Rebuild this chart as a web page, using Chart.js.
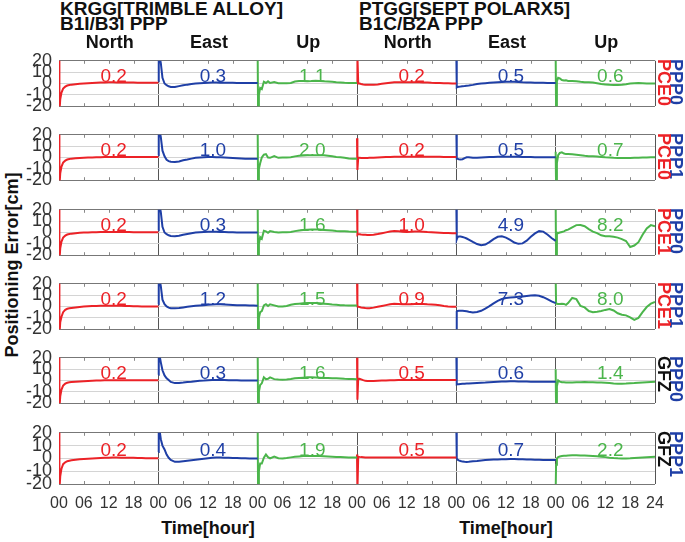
<!DOCTYPE html>
<html><head><meta charset="utf-8">
<script src="https://cdn.jsdelivr.net/npm/chart.js@4.4.1/dist/chart.umd.min.js"></script>
<style>
body{margin:0;background:#fff;width:685px;height:542px;overflow:hidden;position:relative;font-family:"Liberation Sans",Arial,sans-serif;}
.t{position:absolute;white-space:nowrap;line-height:1;color:#111;font-weight:bold;font-size:19px;}
.y{position:absolute;white-space:nowrap;line-height:1;color:#111;font-weight:bold;font-size:18px;}
.v{position:absolute;white-space:nowrap;line-height:1;font-size:19px;transform:translate(-50%,-50%);}
.c{position:absolute;white-space:nowrap;line-height:1;color:#111;font-weight:bold;font-size:18px;transform:translateX(-50%);}
.r{position:absolute;white-space:nowrap;line-height:1;font-weight:bold;font-size:18px;transform-origin:0 0;transform:rotate(90deg);}
canvas{position:absolute;left:0;}
</style></head><body>
<div class="t" style="left:60px;top:-1px">KRGG[TRIMBLE ALLOY]</div>
<div class="t" style="left:60px;top:14px">B1I/B3I PPP</div>
<div class="t" style="left:359px;top:-1px">PTGG[SEPT POLARX5]</div>
<div class="t" style="left:359px;top:14px">B1C/B2A PPP</div>
<div class="y" style="left:12px;top:265px;transform:translate(-50%,-50%) rotate(-90deg)">Positioning Error[cm]</div>
<script>
// ---- data ----
const T = [0,0.1,0.3,0.6,1,1.5,2,2.5,3,4,5,6,7,8,9,10,11,12,13,14,15,16,17,18,19,20,21,22,23,24];
const COMPONENTS = ['North','East','Up'];
const STATIONS = ['KRGG','PTGG'];
const ROW_LABEL1 = ['PPP0','PPP1','PPP0','PPP1','PPP0','PPP1'];
const ROW_LABEL2 = ['PCE0','PCE0','PCE1','PCE1','GFZ','GFZ'];
const X_TICK_LABELS = ['00','06','12','18'];

// row 1: PPP0 / PCE0
const krggN1 = [30,-25,-14,-8,-4.5,-2.8,-1.8,-1.3,-1,-0.6,-0.3,0,0.2,0.4,0.6,0.8,0.9,1,1,0.9,1,0.9,0.8,0.8,0.7,0.7,0.7,0.7,0.7,0.7];
const krggE1 = [2,25,24,18,5,0,-1.5,-2.5,-3,-3,-2.3,-1.6,-1,-0.5,0,0.3,0.5,0.7,0.8,0.8,0.7,0.7,0.6,0.6,0.5,0.5,0.5,0.5,0.5,0.5];
const krggU1 = [25,-25,-10,-4,-5,1.5,0.5,2,0.5,1.2,0.3,0.2,0.2,0.5,1.8,2.2,2.3,2,2.2,2.5,2.3,2,1.8,1.5,1,0.8,0.6,0.5,0.5,0.5];
const ptggN1 = [0,25,0,0,-0.5,-0.8,-1,-1.1,-1.2,-1.2,-0.8,-0.3,0.2,0.6,1,1.2,1.2,1.2,1.1,1.1,1,0.9,0.8,0.6,0.5,0.4,0.3,0.2,0.1,0];
const ptggE1 = [25,-3.5,-3,-2.8,-2.7,-2.5,-2.3,-2,-1.8,-1.2,-0.5,0,0.3,0.6,0.9,1.1,1.3,1.5,1.6,1.5,1.3,1,0.9,0.8,0.7,0.6,0.6,0.5,0.5,0.5];
const ptggU1 = [25,-25,2,5,4.5,3,2.6,2.8,2.3,2.2,2,1.5,1.2,1,0.8,0.3,-0.4,-0.8,-1.2,-1.4,-1.3,-1.1,-0.6,0,0.3,0.4,0.2,0,0,0];
// row 2: PPP1 / PCE0
const krggN2 = [30,-25,-14,-8,-4.5,-2.8,-1.8,-1.3,-1,-0.7,-0.5,-0.3,-0.1,0,0.2,0.3,0.4,0.5,0.5,0.5,0.5,0.5,0.4,0.4,0.4,0.4,0.4,0.4,0.4,0.4];
const krggE2 = [2,25,24,18,6,1,-2,-3.2,-3.8,-4,-3.5,-2.5,-1.8,-1,-0.3,0.1,0.3,0.4,0.4,0.3,0.2,0,-0.2,-0.4,-0.6,-0.8,-1,-1.1,-1.2,-1.2];
const krggU2 = [25,-25,-10,-5,0,2.5,3,0,-0.3,1.2,-0.3,0,0,0.3,1,1.5,1.8,2,2,2,2,2,1.5,1,0.5,0.2,-0.3,-0.8,-1.1,-1.2];
const ptggN2 = [17,-11,0,-0.3,-0.5,-0.5,-0.4,-0.35,-0.3,-0.2,0,0.2,0.4,0.5,0.6,0.7,0.7,0.7,0.7,0.7,0.6,0.6,0.6,0.6,0.6,0.6,0.5,0.5,0.5,0.5];
const ptggE2 = [25,-1,-1.2,-1.5,-1.8,-1.5,-0.5,0.2,0.3,-0.2,-0.3,0,0.2,0.4,0.5,0.6,0.7,0.7,0.7,0.6,0.6,0.5,0.5,0.4,0.3,0.2,0.2,0.2,0.2,0.2];
const ptggU2 = [5,-25,-5,2,4,4.5,3.5,3,3,2.8,2.5,2,1.5,1.2,1,0.8,0.5,0.2,0,-0.3,-0.5,-0.5,-0.5,-0.4,-0.3,-0.2,0,0.1,0.2,0.2];
// row 3: PPP0 / PCE1
const krggN3 = [30,-25,-14,-8,-4.5,-2.8,-1.8,-1.3,-1,-0.6,-0.3,0,0.1,0.2,0.3,0.4,0.5,0.5,0.5,0.5,0.5,0.5,0.4,0.3,0.3,0.3,0.3,0.3,0.3,0.3];
const krggE3 = [2,25,24,18,5,0,-1.5,-2.5,-3,-3.3,-2.8,-2,-1.3,-0.6,0,0.3,0.5,0.6,0.7,0.6,0.5,0.4,0.3,0.2,0.1,0,0,0,0,0];
const krggU3 = [25,-25,-10,-4,-5.5,1.5,1,-0.2,1.2,0.5,0,0.2,0.2,0.4,1.2,1.8,2.2,2.5,2.6,2.6,2.6,2.3,2,1.7,1.4,1.2,1,0.8,0.7,0.7];
const ptggN3 = [25,-2,-1.5,-1.5,-1.7,-1.9,-2,-2.1,-2.1,-2,-1.4,-0.6,0.1,0.8,1.3,1.1,0.7,0.5,0.6,0.8,0.9,0.7,0.4,0.2,0,-0.2,-0.4,-0.5,-0.6,-0.7];
const ptggE3 = [25,-6,-4,-3.5,-3.6,-4,-4.5,-5.3,-6.2,-8.3,-10.2,-11.2,-10.6,-8.5,-5.8,-3.8,-3.4,-4.5,-6.5,-8.8,-10,-9.6,-7.2,-3.8,-0.8,1.2,0.8,-1.8,-4.8,-7.4];
const ptggU3 = [25,-25,0,-0.5,0,0.5,1,2,2.5,4.5,6.5,6.6,5.5,3,0.8,-0.5,-2.5,-3.2,-3.3,-3.8,-4.5,-5.8,-7.5,-12.8,-11.5,-8.5,-2,3.5,6.5,5.5];
// row 4: PPP1 / PCE1
const krggN4 = [30,-25,-14,-9,-5,-3,-2,-1.6,-1.3,-0.8,-0.4,0,0.2,0.4,0.5,0.6,0.7,0.7,0.7,0.6,0.6,0.5,0.4,0.3,0.2,0.1,0.1,0,0,0];
const krggE4 = [2,25,24,18,6,2,0,-1,-1.5,-1.6,-1.3,-0.8,-0.3,0.2,0.6,0.9,1.2,1.5,1.7,1.9,1.9,1.8,1.6,1.4,1.2,1.1,1,0.9,0.8,0.7];
const krggU4 = [25,-25,-10,-5,-4,1,2,0.5,2,1,0,0,0.5,1.5,2.2,2.5,2.8,3,3.1,3,2.8,2.5,2.2,1.8,1.5,1.2,1,0.9,0.8,0.8];
const ptggN4 = [25,0,-0.3,-0.5,-0.8,-1.1,-1.4,-1.6,-1.6,-1,-0.2,0.5,1.2,1.9,2.4,2.3,2,1.9,2,2.2,2.3,2.1,1.9,1.8,1.5,1,0.5,0.1,-0.2,-0.3];
const ptggE4 = [-25,-4.5,-4,-3.8,-3.8,-3.8,-3.9,-4.2,-4.6,-5.3,-4.8,-3.8,-1.8,0.3,2.8,5,6.6,7.5,7.9,8.2,8.5,8.9,9.3,9.7,10,9.5,8.2,6.5,4.5,3];
const ptggU4 = [25,2.5,2.4,2.2,2.3,2.4,2.3,1.5,3,7.5,6.5,0.5,-0.8,-4,-5,-4.6,-4,-3,-2.2,-3.5,-6,-7.3,-7.8,-9.5,-11.8,-10,-5,-0.5,2.5,4];
// row 5: PPP0 / GFZ
const krggN5 = [30,-25,-14,-8,-4.5,-2.8,-2,-1.6,-1.3,-1,-0.8,-0.6,-0.4,-0.2,0,0.1,0.2,0.3,0.3,0.3,0.3,0.3,0.3,0.3,0.3,0.3,0.3,0.3,0.3,0.3];
const krggE5 = [5,25,22,16,9,4.5,2,0.5,-1.2,-2.3,-2.2,-1.8,-1.3,-1,-0.6,-0.2,0,0.3,0.5,0.5,0.5,0.4,0.3,0.2,0.2,0.1,0,0,0,0];
const krggU5 = [25,-25,-10,-4,-2.5,2.8,1.2,1.5,2.8,1.2,0.8,0.7,0.8,1.3,1.9,2.2,2.5,2.8,2.8,2.7,2.5,2.3,2.2,2,1.9,1.7,1.5,1.4,1.3,1.2];
const ptggN5 = [25,-17,2,1.5,1,0.3,-0.3,-0.5,-0.5,-0.4,-0.2,0,0.1,0.2,0.3,0.4,0.5,0.5,0.5,0.5,0.5,0.5,0.5,0.5,0.5,0.5,0.5,0.5,0.5,0.5];
const ptggE5 = [25,-3.5,-3.3,-3.2,-3,-2.9,-2.8,-2.7,-2.6,-2.4,-2.2,-2,-1.8,-1.5,-1.3,-1.1,-0.9,-0.8,-0.7,-0.7,-0.8,-0.9,-0.9,-1,-1,-1.1,-1.1,-1.2,-1.2,-1.2];
const ptggU5 = [10,-25,-5,0,-1,-1.5,-1.6,-1.7,-1.8,-1.8,-1.6,-1.5,-1.4,-1.5,-1.6,-1.7,-1.8,-2,-2.3,-2.6,-2.8,-2.8,-2.7,-2.5,-2.3,-2,-1.7,-1.5,-1.3,-1.2];
// row 6: PPP1 / GFZ
const krggN6 = [30,-25,-14,-8,-4.5,-3,-2.2,-1.8,-1.4,-1,-0.7,-0.4,-0.2,0,0.2,0.4,0.5,0.6,0.7,0.7,0.6,0.6,0.5,0.5,0.4,0.3,0.2,0.2,0.1,0.1];
const krggE6 = [5,25,22,15,10,7,3,0.5,-1.2,-2.7,-2.6,-2.2,-1.8,-1.4,-1,-0.6,-0.2,0.2,0.5,0.7,0.7,0.6,0.5,0.4,0.3,0.2,0.1,0,0,0];
const krggU6 = [25,-25,-10,-4,-4,0.5,3,1,0,1.5,0.2,0,0.3,0.8,1.2,1.5,1.8,1.9,1.9,1.9,1.9,1.7,1.5,1.3,1.1,1,0.9,0.8,0.7,0.7];
const ptggN6 = [3,-25,1.5,1.2,1,0.9,0.8,0.8,0.8,0.8,0.8,0.7,0.7,0.7,0.7,0.7,0.7,0.7,0.7,0.7,0.7,0.7,0.7,0.7,0.7,0.7,0.7,0.7,0.7,0.7];
const ptggE6 = [25,0,-1,-1.5,-2,-2.5,-2.7,-2.8,-2.7,-2.3,-2,-1.6,-1.3,-1.1,-0.9,-0.8,-0.7,-0.6,-0.5,-0.5,-0.6,-0.7,-0.8,-0.9,-1,-1.1,-1.2,-1.2,-1.2,-1.2];
const ptggU6 = [-25,-5,0,1,1.5,1.8,2,2.1,2.2,2.4,2.4,2.3,2.2,2,1.8,1.6,1.3,1,0.6,0.3,0.1,0,0,0.1,0.3,0.5,0.7,0.9,1.1,1.2];

// RMS labels per row
const rmsKrggN = ['0.2','0.2','0.2','0.2','0.2','0.2'];
const rmsKrggE = ['0.3','1.0','0.3','1.2','0.3','0.4'];
const rmsKrggU = ['1.1','2.0','1.6','1.5','1.6','1.9'];
const rmsPtggN = ['0.2','0.2','1.0','0.9','0.5','0.5'];
const rmsPtggE = ['0.5','0.5','4.9','7.3','0.6','0.7'];
const rmsPtggU = ['0.6','0.7','8.2','8.0','1.4','2.2'];

// ---- assembly ----
const ROWS = [
  [krggN1,krggE1,krggU1,ptggN1,ptggE1,ptggU1],
  [krggN2,krggE2,krggU2,ptggN2,ptggE2,ptggU2],
  [krggN3,krggE3,krggU3,ptggN3,ptggE3,ptggU3],
  [krggN4,krggE4,krggU4,ptggN4,ptggE4,ptggU4],
  [krggN5,krggE5,krggU5,ptggN5,ptggE5,ptggU5],
  [krggN6,krggE6,krggU6,ptggN6,ptggE6,ptggU6]
];
const RMS = [rmsKrggN,rmsKrggE,rmsKrggU,rmsPtggN,rmsPtggE,rmsPtggU];
const COLORS = ['#ec2227','#1f3fa6','#4bb54b'];
const LABEL2_COLORS = ['#ec2227','#ec2227','#ec2227','#ec2227','#111','#111'];
const ROW_TOP = [55,129,204,278,352,427];
const FONT = '"Liberation Sans", Arial, sans-serif';

const innerTicks = {
  id:'innerTicks',
  beforeDatasetsDraw(chart){
    const {ctx, chartArea:a, scales:{x}} = chart;
    ctx.save(); ctx.strokeStyle='#888'; ctx.lineWidth=1; ctx.beginPath();
    for (let v=6; v<144; v+=6){
      if (v%24===0) continue;
      const px = Math.round(x.getPixelForValue(v))+0.5;
      ctx.moveTo(px,a.top); ctx.lineTo(px,a.top+3);
      ctx.moveTo(px,a.bottom); ctx.lineTo(px,a.bottom-3);
    }
    ctx.stroke(); ctx.restore();
  }
};

function addDiv(cls, text, style){
  const d = document.createElement('div');
  d.className = cls; d.textContent = text;
  Object.assign(d.style, style);
  document.body.appendChild(d);
  return d;
}

const charts = [];
for (let r=0; r<6; r++){
  const last = r===5;
  const cv = document.createElement('canvas');
  const H = 12 + 57 + (last ? 32 : 12);
  cv.width = 685; cv.height = H;
  const top = ROW_TOP[r]-12;
  cv.style.top = top+'px';
  document.body.appendChild(cv);
  const datasets = ROWS[r].map((vals, seg)=>({
    data: T.map((t,i)=>({x: seg*24+t, y: vals[i]})),
    borderColor: COLORS[seg%3], borderWidth: 2, pointRadius: 0, tension: 0, fill:false
  }));
  const ch = new Chart(cv, {
    type:'line',
    data:{datasets},
    options:{
      responsive:false, animation:false,
      layout:{padding:{top:12,bottom:last?0:12,left:0,right:30}},
      plugins:{legend:{display:false},tooltip:{enabled:false}},
      scales:{
        x:{type:'linear',min:0,max:144,
          ticks:{display:last,stepSize:6,autoSkip:false,maxRotation:0,minRotation:0,
            font:{family:FONT,size:16},color:'#333',padding:10,
            callback:v=> v===144 ? '24' : X_TICK_LABELS[(v%24)/6]},
          grid:{drawTicks:false,lineWidth:1,color:c=> (c.tick && c.tick.value%24===0) ? '#555' : 'rgba(0,0,0,0)'},
          border:{display:false},
          afterFit:s=>{ s.height = last ? 32 : 0; }
        },
        y:{min:-20,max:20,
          ticks:{stepSize:10,autoSkip:false,font:{family:FONT,size:18},color:'#333',padding:7},
          grid:{drawTicks:false,lineWidth:1,color:c=> (c.tick && Math.abs(c.tick.value)===20) ? '#777' : '#d4d4d4'},
          border:{display:false},
          afterFit:s=>{ s.width = 59; }
        }
      }
    },
    plugins:[innerTicks]
  });
  charts.push(ch);
  // RMS labels
  for (let seg=0; seg<6; seg++){
    const px = ch.scales.x.getPixelForValue(seg*24+13.2);
    const py = ch.scales.y.getPixelForValue(7.5) + top;
    addDiv('v', RMS[seg][r], {left:px+'px', top:py+'px', color:COLORS[seg%3]});
  }
  // row labels
  addDiv('r', ROW_LABEL1[r], {left:'685px', top:(ROW_TOP[r]+4)+'px', color:'#1f3fa6'});
  addDiv('r', ROW_LABEL2[r], {left:'673px', top:(ROW_TOP[r]+4)+'px', color:LABEL2_COLORS[r]});
}
// column headers
for (let seg=0; seg<6; seg++){
  const px = charts[0].scales.x.getPixelForValue(seg*24+12);
  addDiv('c', COMPONENTS[seg%3], {left:(px+1)+'px', top:'33px'});
}
// x axis titles
for (let s=0; s<2; s++){
  const px = charts[5].scales.x.getPixelForValue(s*72+36);
  addDiv('c', 'Time[hour]', {left:px+'px', top:'519px'});
}
</script>
</body></html>
